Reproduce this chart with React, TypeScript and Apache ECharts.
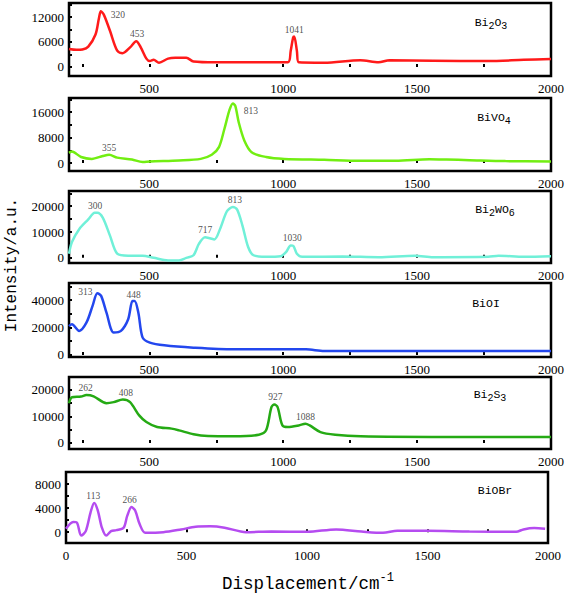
import React, { useEffect, useRef } from 'react';
import * as echarts from 'echarts';

// ---- data (Raman shift cm^-1, intensity a.u.) ----
const bi2o3: number[][] = [
  [200, 4300], [228, 4100], [250, 4200], [272, 4900], [299, 7800], [312, 11800], [319, 13400], [330, 12600],
  [353, 8700], [380, 3900], [400, 3300], [428, 4700], [451, 6200], [468, 4700], [489, 2000], [502, 1400],
  [516, 1700], [536, 1000], [570, 2000], [597, 2200], [638, 2200], [665, 1300], [746, 1100], [882, 1100],
  [1017, 1100], [1028, 3900], [1037, 7100], [1041, 7300], [1051, 3900], [1058, 1100], [1153, 1000],
  [1288, 1600], [1356, 1100], [1397, 1600], [1559, 1500], [1763, 1400], [1898, 1700], [2000, 1900],
];
const bivo4: number[][] = [
  [200, 3200], [211, 3600], [245, 1900], [285, 1300], [326, 2200], [350, 2600], [380, 1700], [435, 1100],
  [475, 300], [502, 500], [611, 800], [692, 1300], [733, 2600], [760, 5000], [780, 10600], [800, 16800],
  [812, 18700], [821, 17900], [834, 12700], [855, 7000], [882, 3400], [936, 1900], [1004, 1300],
  [1153, 1000], [1288, 700], [1420, 700], [1546, 1200], [1610, 1100], [1696, 900], [1830, 600], [2000, 500],
];
const bi2wo6: number[][] = [
  [200, 1600], [211, 6100], [238, 11100], [272, 14900], [296, 17500], [306, 17500], [326, 15600],
  [353, 8600], [380, 1600], [421, 800], [475, 800], [516, 0], [570, -1000], [611, -1000], [638, 0],
  [665, 1000], [685, 5400], [708, 8000], [726, 7600], [743, 7100], [766, 11700], [790, 18100], [812, 19700],
  [828, 18700], [848, 12400], [869, 4200], [889, 1000], [936, 400], [990, 600], [1011, 2300], [1028, 4800],
  [1038, 4600], [1051, 1600], [1071, 400], [1221, 500], [1357, 250], [1492, 800], [1560, 250], [1765, 400],
  [1804, 800], [1900, 400], [2000, 600],
];
const bioi: number[][] = [
  [200, 21000], [211, 22300], [238, 17500], [265, 23500], [288, 35700], [306, 44900], [320, 43000],
  [340, 30800], [367, 16300], [394, 17500], [421, 26000], [437, 39300], [445, 39300], [459, 30800],
  [475, 12600], [502, 9000], [556, 7000], [665, 5300], [814, 4100], [1085, 4100], [1153, 2900],
  [1600, 2900], [2000, 2900],
];
const bi2s3: number[][] = [
  [200, 15000], [211, 17250], [245, 17500], [265, 18100], [292, 17600], [340, 15000], [367, 15400],
  [401, 16400], [428, 15400], [462, 10400], [489, 7900], [529, 6000], [583, 5400], [611, 4750], [665, 3250],
  [719, 2600], [814, 2500], [909, 3100], [936, 4750], [956, 13500], [967, 14500], [979, 13500], [997, 6600],
  [1017, 6000], [1058, 6600], [1083, 7250], [1099, 6600], [1139, 4100], [1194, 3100], [1289, 2500],
  [1600, 2250], [2000, 2250],
];
const biobr: number[][] = [
  [0, 570], [30, 1700], [45, 1600], [63, -570], [82, 170], [102, 3300], [117, 4860], [132, 3600],
  [149, 740], [167, -570], [187, 170], [209, 340], [239, 740], [254, 2700], [272, 4170], [287, 3600],
  [306, 1300], [329, -110], [404, 0], [478, 460], [538, 900], [598, 970], [658, 740], [747, 0], [852, 110],
  [1002, 60], [1121, 460], [1226, 110], [1315, -110], [1375, 230], [1500, 230], [1674, 110], [1868, 60],
  [1898, 460], [1943, 690], [1988, 570],
];

// peak annotations: [shift, intensity, label]
const bi2o3Peaks: [number, number, string][] = [[319, 13400, '320'], [451, 6200, '453'], [1041, 7300, '1041']];
const bivo4Peaks: [number, number, string][] = [[350, 2600, '355'], [812, 18700, '813']];
const bi2wo6Peaks: [number, number, string][] = [[301, 17500, '300'], [708, 8000, '717'], [812, 19700, '813'], [1030, 4800, '1030']];
const bioiPeaks: [number, number, string][] = [[306, 44900, '313'], [441, 39300, '448']];
const bi2s3Peaks: [number, number, string][] = [[262, 18100, '262'], [401, 16400, '408'], [967, 14500, '927'], [1083, 7250, '1088']];
const biobrPeaks: [number, number, string][] = [[117, 4860, '113'], [272, 4170, '266']];

const names = ['Bi{s|2}O{s|3}', 'BiVO{s|4}', 'Bi{s|2}WO{s|6}', 'BiOI', 'Bi{s|2}S{s|3}', 'BiOBr'];
const yLabelValues = [[0, 6000, 12000], [0, 8000, 16000], [0, 10000, 20000], [0, 20000, 40000], [0, 10000, 20000], [0, 4000, 8000]];
const yTickValues = [
  [0, 3000, 6000, 9000, 12000, 15000], [0, 4000, 8000, 12000, 16000, 20000], [0, 5000, 10000, 15000, 20000, 25000],
  [0, 10000, 20000, 30000, 40000, 50000], [0, 5000, 10000, 15000, 20000], [0, 2000, 4000, 6000, 8000],
];
const xLabelsTop = [500, 1000, 1500, 2000];
const xLabelsBottom = [0, 500, 1000, 1500, 2000];
const xTicks = [250, 500, 750, 1000, 1250, 1500, 1750];

// ---- styles / layout ----
const colors = ['#ff1a1a', '#72ee12', '#70f0d8', '#2347ee', '#25aa14', '#b54cf0'];
const grids = [
  { left: 69, top: 3, width: 484, height: 73 },
  { left: 69, top: 98, width: 483, height: 73 },
  { left: 69, top: 191, width: 484, height: 72 },
  { left: 69, top: 283, width: 482, height: 74 },
  { left: 69, top: 377, width: 482, height: 72 },
  { left: 66, top: 472, width: 482, height: 71 },
];
const yRanges = [[-2200, 15400], [-2500, 20400], [-2000, 25900], [-1500, 52400], [-2300, 24900], [-1800, 10000]];
const xRanges = [[200, 2000], [200, 2000], [200, 2000], [200, 2000], [200, 2000], [0, 2000]];
const namePos = [[491, 22], [494, 117], [495, 209], [486, 303], [490, 394], [495, 490]];
const labelOffsets: number[][][] = [
  [[17, 4], [1, -7], [0, -7]],
  [[0, -7], [18, 8]],
  [[-1, -7], [0, -7], [2, -7], [1, -7]],
  [[-12, -1], [0, -6]],
  [[0, -7], [3, -7], [1, -8], [0, -7]],
  [[-1, -7], [-2, -7]],
];

const seriesData = [bi2o3, bivo4, bi2wo6, bioi, bi2s3, biobr];
const peakData = [bi2o3Peaks, bivo4Peaks, bi2wo6Peaks, bioiPeaks, bi2s3Peaks, biobrPeaks];

const SERIF = 'Liberation Serif';
const MONO = 'Liberation Mono';

export default function App() {
  const ref = useRef<HTMLDivElement>(null);
  useEffect(() => {
    if (!ref.current) return;
    const chart = echarts.init(ref.current, undefined, { renderer: 'svg' });
    const option: any = {
      animation: false,
      backgroundColor: '#fff',
      textStyle: { fontFamily: SERIF },
      grid: grids.map((g) => ({ ...g, show: true, borderColor: '#000', borderWidth: 2.5, backgroundColor: 'transparent' })),
      xAxis: grids.map((_, i) => ({
        type: 'value',
        gridIndex: i,
        min: xRanges[i][0],
        max: xRanges[i][1],
        splitLine: { show: false },
        axisLine: { show: false },
        axisTick: { show: true, inside: true, length: 3, customValues: xTicks, lineStyle: { color: '#000', width: 2 } },
        axisLabel: {
          show: true,
          customValues: i === 5 ? xLabelsBottom : xLabelsTop,
          formatter: (v: number) => String(v),
          color: '#000',
          fontFamily: SERIF,
          fontSize: 13,
          margin: 6,
        },
      })),
      yAxis: grids.map((_, i) => ({
        type: 'value',
        gridIndex: i,
        min: yRanges[i][0],
        max: yRanges[i][1],
        splitLine: { show: false },
        axisLine: { show: false },
        axisTick: { show: true, inside: true, length: 3, customValues: yTickValues[i], lineStyle: { color: '#000', width: 2 } },
        axisLabel: {
          show: true,
          customValues: yLabelValues[i],
          formatter: (v: number) => String(v),
          color: '#000',
          fontFamily: SERIF,
          fontSize: 13,
          margin: 5,
        },
      })),
      series: [
        ...seriesData.map((d, i) => ({
          type: 'line',
          xAxisIndex: i,
          yAxisIndex: i,
          data: d,
          showSymbol: false,
          smooth: 0.3,
          lineStyle: { color: colors[i], width: 2.5 },
          itemStyle: { color: colors[i] },
          silent: true,
        })),
        ...peakData.map((pk, i) => ({
          type: 'scatter',
          xAxisIndex: i,
          yAxisIndex: i,
          symbolSize: 1,
          itemStyle: { color: 'transparent' },
          silent: true,
          data: pk.map((p, j) => ({
            value: [p[0], p[1]],
            name: p[2],
            label: { offset: labelOffsets[i][j] },
          })),
          label: {
            show: true,
            position: 'inside',
            formatter: (pp: any) => pp.name,
            fontFamily: SERIF,
            fontSize: 9.5,
            color: '#222',
          },
        })),
      ],
      graphic: [
        ...names.map((n, i) => ({
          type: 'text',
          x: namePos[i][0],
          y: namePos[i][1],
          silent: true,
          style: {
            text: n,
            align: 'center',
            verticalAlign: 'middle',
            fontFamily: MONO,
            fontSize: 11.5,
            fill: '#000',
            rich: {
              s: { fontFamily: MONO, fontSize: 10, padding: [8, 0, 0, 0], fill: '#000' },
            },
          },
        })),
        {
          type: 'text',
          x: 12,
          y: 265,
          rotation: Math.PI / 2,
          silent: true,
          style: { text: 'Intensity/a.u.', align: 'center', verticalAlign: 'middle', fontFamily: MONO, fontSize: 16, fill: '#000' },
        },
        {
          type: 'text',
          x: 308,
          y: 584,
          silent: true,
          style: {
            text: 'Displacement/cm{p|-1}',
            align: 'center',
            verticalAlign: 'middle',
            fontFamily: MONO,
            fontSize: 17.5,
            fill: '#000',
            rich: { p: { fontFamily: MONO, fontSize: 12, padding: [0, 0, 12, 0], fill: '#000' } },
          },
        },
      ],
    };
    chart.setOption(option);
    return () => chart.dispose();
  }, []);
  return <div ref={ref} style={{ position: 'fixed', left: 0, top: 0, width: 567, height: 599, background: '#fff' }} />;
}
